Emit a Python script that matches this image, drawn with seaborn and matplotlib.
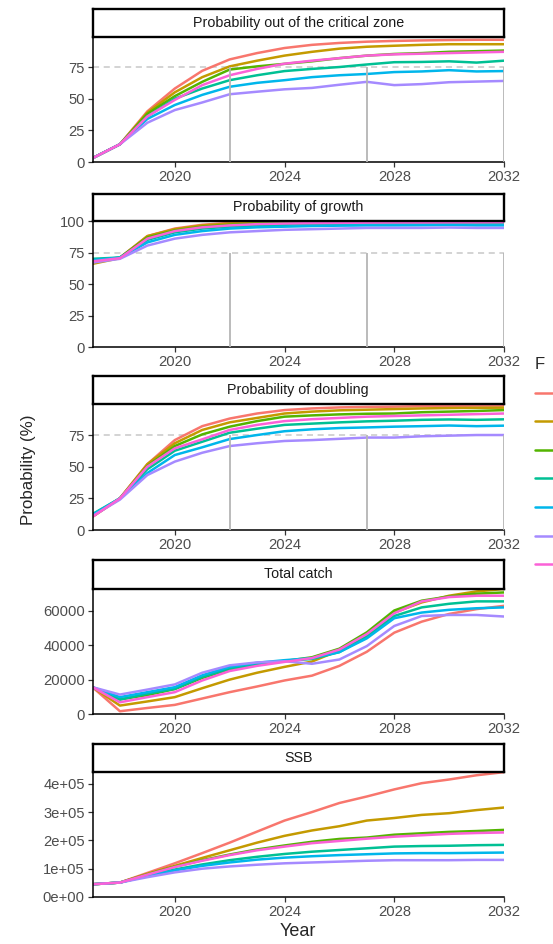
import pandas as pd
import matplotlib
matplotlib.use("Agg")
import matplotlib.pyplot as plt
import seaborn as sns
from matplotlib.ticker import FuncFormatter

# --- data ---
years = list(range(2017, 2033))
f_levels = ["0", "0.1", "0.2", "0.3", "0.4", "0.5", "HCR"]
f_colors = ["#F8766D", "#C49A00", "#53B400", "#00C094", "#00B6EB", "#A58AFF", "#FB61D7"]

panel_titles = ["Probability out of the critical zone", "Probability of growth",
                "Probability of doubling", "Total catch", "SSB"]

# one list per F level, in the order of f_levels
p_critical = [
    [3, 14, 40, 58, 72, 81, 86, 90, 92.5, 94, 95, 95.6, 96, 96.3, 96.5, 96.5],
    [3, 14, 39, 55, 67, 75.5, 80, 84, 87, 89.5, 91, 91.8, 92.5, 93, 93, 93],
    [3, 14, 38, 52, 63.3, 73, 75.5, 77.5, 79.5, 82, 84, 85.3, 86, 87, 87.5, 88],
    [3, 14, 36, 50, 58, 64.6, 68.5, 71.8, 73.5, 75, 77, 78.8, 79, 79.5, 78.5, 80],
    [3, 14, 34, 45, 53, 59.4, 62.5, 64.6, 67, 68.5, 69.5, 71, 71.5, 72.5, 71.5, 71.8],
    [3, 14, 31, 41, 47, 53.5, 55.5, 57.4, 58.5, 61, 63.3, 60.7, 61.5, 63, 63.5, 64],
    [3, 14, 36, 49, 60.7, 68.5, 73.5, 77.6, 80, 82, 84, 85, 85.5, 86, 86.5, 87],
]
p_growth = [
    [67, 71, 88, 94, 97, 98.5, 99.3, 99.6, 99.8, 99.9, 99.9, 100, 100, 100, 100, 100],
    [66, 70.5, 88, 93.5, 96.5, 98, 98.8, 99.3, 99.5, 99.6, 99.7, 99.8, 99.8, 99.8, 99.8, 99.8],
    [68, 71, 87, 92.5, 95.5, 97, 98, 98.5, 98.8, 99, 99.2, 99.3, 99.3, 99.4, 99.4, 99.4],
    [70, 71, 85, 91, 94, 95.5, 96.5, 97, 97.5, 97.8, 98, 98, 98, 98.2, 98, 98],
    [69, 71, 83, 89, 92, 94, 95, 95.5, 96, 96.3, 96.5, 96.5, 96.6, 96.8, 96.5, 96.5],
    [67, 70, 80.5, 86, 89, 91, 92, 93, 93.5, 94, 94.5, 94.5, 94.5, 94.8, 94.5, 94.5],
    [68, 70.5, 86, 92, 95, 96.5, 97.5, 98, 98.3, 98.5, 98.7, 98.8, 98.8, 98.9, 98.9, 99],
]
p_doubling = [
    [10.5, 25, 52, 71, 82, 88, 92, 94.7, 96, 96.8, 97.2, 97.4, 97.8, 98, 98.2, 98.2],
    [10.5, 25, 52, 68.5, 79, 85, 88.5, 92, 93.5, 94.5, 95, 95.5, 96, 96.3, 96.5, 96.6],
    [11, 25, 50.5, 66.3, 75.5, 81.6, 86, 89.5, 90.5, 91.3, 91.8, 92, 93, 93.5, 94, 94.7],
    [12.6, 25, 48, 62.6, 69.7, 76.8, 80, 83, 84, 85, 85.8, 86.3, 87, 87.3, 87, 87.4],
    [12, 25, 45, 59.2, 65.3, 71.8, 75, 78, 79.5, 80.5, 81, 81.6, 82, 82.5, 82, 82.4],
    [11, 24, 43.4, 54, 61, 66.3, 68.5, 70.3, 71, 72, 73, 73, 74, 74.5, 75, 75],
    [10.5, 25, 50, 64.5, 71.6, 79, 83, 86, 87.5, 88.5, 89.5, 90, 90.5, 91, 91.5, 92],
]
total_catch = [
    [15600, 1600, 3500, 5300, 9000, 12700, 16000, 19500, 22300, 28000, 36200, 47300, 53700, 58200, 61000, 62900],
    [15600, 4900, 7300, 9800, 15000, 20000, 24000, 27400, 30500, 37000, 46000, 59000, 64900, 68800, 71300, 72700],
    [15600, 8500, 11000, 14500, 21000, 26000, 28500, 30800, 33000, 38000, 47500, 60200, 65900, 68400, 70000, 70700],
    [15600, 8400, 11800, 14650, 21500, 26400, 29000, 30900, 32000, 36000, 45000, 57000, 62000, 64100, 65500, 65500],
    [15600, 9800, 12700, 15600, 22500, 27400, 29800, 31300, 32500, 36000, 44000, 55700, 59000, 60600, 61500, 62000],
    [15600, 11300, 14200, 17200, 24000, 28300, 30000, 30700, 29200, 31700, 39500, 51200, 57000, 57600, 57600, 56700],
    [15600, 6800, 9800, 12700, 19500, 25000, 28000, 30300, 32500, 37500, 46500, 58600, 65500, 68000, 68800, 68800],
]
ssb = [
    [45e3, 51e3, 85e3, 119e3, 155e3, 192e3, 231e3, 270e3, 300e3, 332e3, 355e3, 380e3, 402e3, 415e3, 430e3, 441e3],
    [45e3, 51e3, 82e3, 110e3, 138e3, 165e3, 192e3, 216e3, 235e3, 250e3, 270e3, 279e3, 290e3, 296e3, 307e3, 316e3],
    [45e3, 51e3, 80e3, 107e3, 130e3, 150e3, 168e3, 182e3, 195e3, 205e3, 210e3, 220e3, 225e3, 230e3, 233e3, 237e3],
    [45e3, 51e3, 75e3, 97e3, 115e3, 130e3, 142e3, 152e3, 160e3, 166e3, 172e3, 178e3, 180e3, 181e3, 183e3, 184e3],
    [45e3, 51e3, 74e3, 94e3, 110e3, 122e3, 132e3, 139e3, 144e3, 148e3, 151e3, 154e3, 155e3, 155e3, 156e3, 157e3],
    [45e3, 51e3, 70e3, 87e3, 100e3, 108e3, 114e3, 119e3, 122e3, 125e3, 128e3, 130e3, 130e3, 130e3, 131e3, 131e3],
    [45e3, 51e3, 79e3, 106e3, 128e3, 148e3, 165e3, 178e3, 190e3, 198e3, 206e3, 213e3, 218e3, 223e3, 226e3, 228e3],
]

panel_data = [p_critical, p_growth, p_doubling, total_catch, ssb]

rows = []
for title, series in zip(panel_titles, panel_data):
    for f, vals in zip(f_levels, series):
        for yr, v in zip(years, vals):
            rows.append({"panel": title, "F": f, "Year": yr, "value": v})
df = pd.DataFrame(rows)

# --- layout (pixel positions of the ggplot facets) ---
sns.set_theme(style="ticks")
plt.rcParams["font.family"] = ["Liberation Sans", "DejaVu Sans"]

W_PX, H_PX = 553, 944
fig = plt.figure(figsize=(W_PX / 100, H_PX / 100), dpi=100)

left_px, right_px = 92.5, 504
panel_px = [(37, 162), (221, 347), (404, 530), (589, 714), (772, 897)]
strip_px = [9, 194, 376, 560, 744]
ylims = [(0, 98.7), (0, 100), (0, 99.5), (0, 72700), (0, 441500)]
yticks = [[0, 25, 50, 75], [0, 25, 50, 75, 100], [0, 25, 50, 75],
          [0, 20000, 40000, 60000], [0, 1e5, 2e5, 3e5, 4e5]]

L = left_px / W_PX
W = (right_px - left_px) / W_PX
grey_txt = "#4D4D4D"

handles = None
for i, title in enumerate(panel_titles):
    top, bot = panel_px[i]
    ax = fig.add_axes([L, 1 - bot / H_PX, W, (bot - top) / H_PX])
    sub = df[df["panel"] == title]

    if i < 3:
        ax.axhline(75, color="#C8C8C8", ls=(0, (4, 3)), lw=1.1, zorder=1)

    sns.lineplot(data=sub, x="Year", y="value", hue="F", hue_order=f_levels,
                 palette=f_colors, linewidth=1.8, legend=(i == 0), ax=ax, zorder=2)
    if i == 0:
        handles, _ = ax.get_legend_handles_labels()
        ax.get_legend().remove()

    if i < 3:
        ax.vlines([2022, 2027, 2032], 0, 75, color="#B5B5B5", lw=1.3, zorder=3)

    ax.set_xlim(2017, 2032)
    ax.set_ylim(*ylims[i])
    ax.set_xticks([2020, 2024, 2028, 2032])
    ax.set_yticks(yticks[i])
    if i == 4:
        ax.yaxis.set_major_formatter(FuncFormatter(lambda v, p: f"{v:.0e}"))
    else:
        ax.yaxis.set_major_formatter(FuncFormatter(lambda v, p: f"{v:g}" if v < 1000 else f"{int(v)}"))
    ax.set_xlabel("")
    ax.set_ylabel("")
    for s in ["top", "right"]:
        ax.spines[s].set_visible(False)
    for s in ["left", "bottom"]:
        ax.spines[s].set_color("black")
        ax.spines[s].set_linewidth(1.1)
    ax.tick_params(length=3.5, width=0.9, color="#333333", labelsize=10.6,
                   labelcolor=grey_txt, pad=2)

    # facet strip
    s_top = strip_px[i]
    sax = fig.add_axes([L, 1 - top / H_PX, W, (top - s_top) / H_PX])
    sax.set_xticks([])
    sax.set_yticks([])
    sax.set_facecolor("white")
    for s in sax.spines.values():
        s.set_color("black")
        s.set_linewidth(1.7)
    sax.text(0.5, 0.5, title, ha="center", va="center", fontsize=10.3, color="#1A1A1A",
             transform=sax.transAxes)

fig.text(28 / W_PX, 1 - 470 / H_PX, "Probability (%)", rotation=90,
         ha="center", va="center", fontsize=12.2)
fig.text(298 / W_PX, 1 - 932 / H_PX, "Year", ha="center", va="center", fontsize=13)

# legend labels fall outside the cropped canvas in the reference, so only keys show
fig.legend(handles, [""] * len(handles), title="F", loc="upper left",
           bbox_to_anchor=(535 / W_PX, 1 - 357 / H_PX), frameon=False,
           borderpad=0, borderaxespad=0, handlelength=2.2, handletextpad=0.6,
           labelspacing=1.05, fontsize=10, title_fontsize=12, alignment="left")

fig.savefig("out.png", dpi=100)
